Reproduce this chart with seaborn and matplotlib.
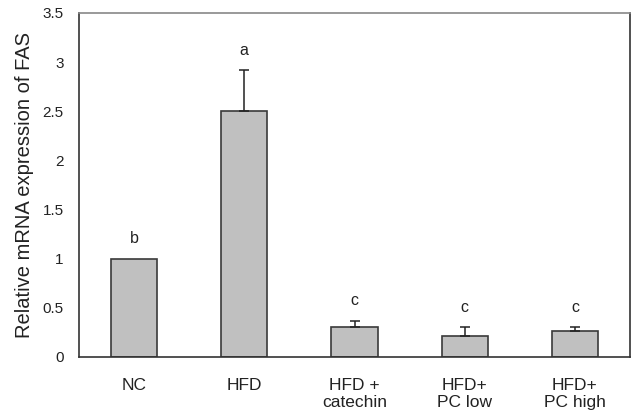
import numpy as np
import pandas as pd
import seaborn as sns
import matplotlib.pyplot as plt

# Values
groups = ["NC", "HFD", "HFD +\ncatechin", "HFD+\nPC low", "HFD+\nPC high"]
fasExpr = [1.0, 2.50, 0.31, 0.21, 0.26]
fasErr = [0.0, 0.42, 0.06, 0.09, 0.04]
letters = ["b", "a", "c", "c", "c"]

data = pd.DataFrame({"Group": groups, "FAS": fasExpr, "SE": fasErr})

sns.set_style("white")
plt.rcParams["font.family"] = ["Liberation Sans", "DejaVu Sans"]

fig = plt.figure(figsize=(6.39, 4.15), dpi=100)
ax = fig.add_axes([0.1236, 0.1398, 0.8624, 0.8289])

sns.barplot(x="Group", y="FAS", data=data, color="#c0c0c0", saturation=1,
            edgecolor="#3a3a3a", linewidth=1.2, width=0.42, ax=ax)

xpos = np.arange(len(groups))
hasErr = data["SE"] > 0
ax.errorbar(xpos[hasErr], data["FAS"][hasErr],
            yerr=[np.zeros(hasErr.sum()), data["SE"][hasErr]],
            fmt="none", ecolor="#222222", elinewidth=1.1, capsize=3.3, capthick=1.1,
            zorder=1)

# significance letters above each bar
for x, y, e, t in zip(xpos, data["FAS"], data["SE"], letters):
    ax.annotate(t, (x, y + e), xytext=(0, 11), textcoords="offset points",
                ha="center", va="baseline", fontsize=11.5, color="#222222")

ax.set_xlim(-0.5, len(groups) - 0.5)
ax.set_ylim(0, 3.5)
ax.set_yticks([0, 0.5, 1, 1.5, 2, 2.5, 3, 3.5])
ax.set_yticklabels(["0", "0.5", "1", "1.5", "2", "2.5", "3", "3.5"])
ax.set_xlabel("")
ax.set_ylabel("Relative mRNA expression of FAS", fontsize=14.5, color="#222222",
              labelpad=6)
ax.tick_params(axis="y", direction="in", length=4, width=1, labelsize=11,
               colors="#222222", pad=11)
ax.tick_params(axis="x", length=0, labelsize=12.5, colors="#222222", pad=15)
for lbl in ax.get_xticklabels():
    lbl.set_verticalalignment("top")
for s in ax.spines.values():
    s.set_color("#333333")
    s.set_linewidth(1.2)
ax.spines["top"].set_color("#888888")

fig.savefig("out.png", dpi=100)
